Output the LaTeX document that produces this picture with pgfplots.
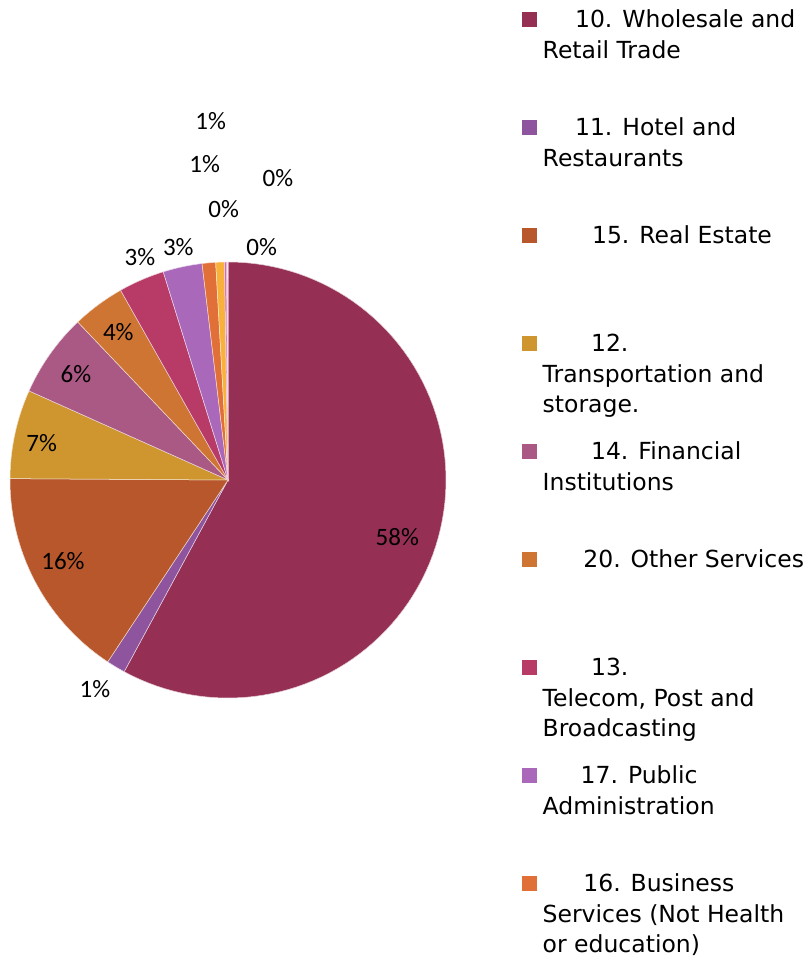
\documentclass[border=0pt]{standalone}
\usepackage{pgfplots}
\pgfplotsset{compat=1.18}
\usepackage{fontspec}
\setmainfont{Carlito}
\newfontfamily\legfont{DejaVu Sans}

\definecolor{cWhole}{HTML}{953054}
\definecolor{cHotel}{HTML}{8E559E}
\definecolor{cReal}{HTML}{B7572B}
\definecolor{cTrans}{HTML}{CF962F}
\definecolor{cFin}{HTML}{AA5884}
\definecolor{cOther}{HTML}{CF7533}
\definecolor{cTele}{HTML}{B83B67}
\definecolor{cPub}{HTML}{A968BA}
\definecolor{cBus}{HTML}{E07038}
\definecolor{cYel}{HTML}{F8B13A}
\definecolor{cT1}{HTML}{D86AA8}
\definecolor{cT2}{HTML}{C05090}
\definecolor{cT3}{HTML}{E890C0}

% cumulative share (percent) already drawn
\newcommand\cum{0}
\newcommand\slice[3]{%
  \pgfmathsetmacro\sA{90-3.6*\cum}%
  \pgfmathsetmacro\cumnew{\cum+#1}%
  \pgfmathsetmacro\sB{90-3.6*\cumnew}%
  \xdef\cum{\cumnew}%
  \edef\doslice{\noexpand\addplot[fill=#2, draw=white!75!#2, line width=0.5bp, domain=\sB:\sA, samples=90, #3] ({cos(x)},{sin(x)}) -- (0,0) -- cycle;}%
  \doslice
}
\newcommand\lt[2]{\parbox[t][108bp][t]{270bp}{\raggedright\legfont\fontsize{23.5bp}{30.5bp}\selectfont\strut\hspace*{#1}#2}}
\newcommand\lab{\fontsize{25bp}{30bp}\selectfont}

\begin{document}
\begin{tikzpicture}
\begin{axis}[
  hide axis, clip=false, scale only axis,
  width=436bp, height=436bp,
  xmin=-1, xmax=1, ymin=-1, ymax=1,
  at={(10bp,261bp)}, anchor=south west,
  every axis legend/.style={at={(1.175,1.58596)}, anchor=north west,
    draw=none, fill=none, inner sep=0pt, outer sep=0pt,
    cells={anchor=west}, nodes={inner sep=0pt, outer sep=0pt}},
  legend image code/.code={%
    \path[fill=none,draw=none,line width=0pt] (0bp,-54bp) rectangle (20.4bp,54bp);
    \path[#1,draw=none] (0bp,34bp) rectangle (14.4bp,48.4bp);},
]
\slice{57.9}{cWhole}{}
\addlegendentry{\lt{32.4bp}{10. Wholesale and\\Retail Trade}}
\slice{1.4}{cHotel}{}
\addlegendentry{\lt{32.4bp}{11. Hotel and\\Restaurants}}
\slice{15.8}{cReal}{}
\addlegendentry{\lt{49.4bp}{15. Real Estate}}
\slice{6.6}{cTrans}{}
\addlegendentry{\lt{48.4bp}{12.\\Transportation and\\storage.}}
\slice{6.2}{cFin}{}
\addlegendentry{\lt{48.4bp}{14. Financial\\Institutions}}
\slice{3.9}{cOther}{}
\addlegendentry{\lt{40.7bp}{20. Other Services}}
\slice{3.4}{cTele}{}
\addlegendentry{\lt{48.4bp}{13.\\Telecom, Post and\\Broadcasting}}
\slice{2.9}{cPub}{}
\addlegendentry{\lt{38bp}{17. Public\\Administration}}
\slice{1.0}{cBus}{}
\addlegendentry{\lt{40.7bp}{16. Business\\Services (Not Health\\or education)}}
\slice{0.64}{cYel}{forget plot}
\slice{0.15}{cT1}{forget plot}
\slice{0.07}{cT2}{forget plot}
\slice{0.04}{cT3}{forget plot}

\node[font=\lab] at (axis cs:0.7766,-0.2628) {58\%};
\node[font=\lab] at (axis cs:-0.6101,-0.9587) {1\%};
\node[font=\lab] at (axis cs:-0.7569,-0.3716) {16\%};
\node[font=\lab] at (axis cs:-0.8546,0.1711) {7\%};
\node[font=\lab] at (axis cs:-0.6972,0.4862) {6\%};
\node[font=\lab] at (axis cs:-0.5032,0.6803) {4\%};
\node[font=\lab] at (axis cs:-0.4037,1.0243) {3\%};
\node[font=\lab] at (axis cs:-0.2280,1.0702) {3\%};
\node[font=\lab] at (axis cs:-0.1069,1.4482) {1\%};
\node[font=\lab] at (axis cs:-0.0794,1.6468) {1\%};
\node[font=\lab] at (axis cs:-0.0197,1.2431) {0\%};
\node[font=\lab] at (axis cs:0.2294,1.3867) {0\%};
\node[font=\lab] at (axis cs:0.1546,1.0671) {0\%};
\end{axis}
\pgfresetboundingbox
\path[use as bounding box] (0,0) rectangle (803bp,959bp);
\end{tikzpicture}
\end{document}
